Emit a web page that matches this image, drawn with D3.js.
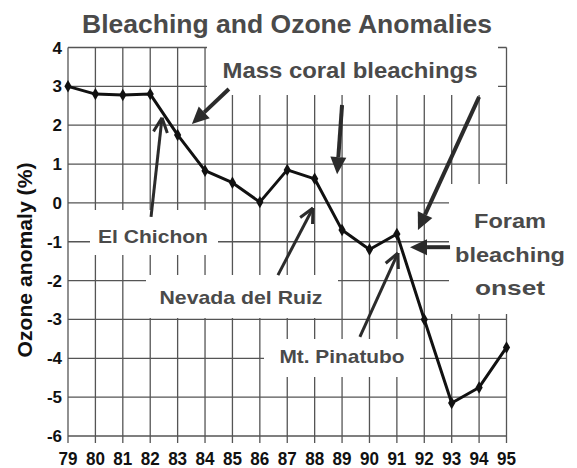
<!DOCTYPE html>
<html>
<head>
<meta charset="utf-8">
<script src="https://cdn.jsdelivr.net/npm/d3@7"></script>
<style>
  body { margin: 0; background: #fff; }
  svg text { font-family: "Liberation Sans", Arial, sans-serif; font-weight: bold; }
</style>
</head>
<body>
<svg id="chart"></svg>
<script>
// data
var years = [79, 80, 81, 82, 83, 84, 85, 86, 87, 88, 89, 90, 91, 92, 93, 94, 95];
var anomaly = [3.0, 2.8, 2.78, 2.8, 1.75, 0.83, 0.52, 0.02, 0.85, 0.62, -0.7, -1.2, -0.8, -3.0, -5.15, -4.75, -3.72];
var yTicks = [4, 3, 2, 1, 0, -1, -2, -3, -4, -5, -6];

// arrows in data units: [x0, y0, x1 (tip), y1 (tip), head type]
var arrows = [
    [84.87, 2.93, 83.52, 2.03, "fill"],
    [89.0, 2.52, 88.82, 0.74, "fill"],
    [94.0, 2.73, 91.77, -0.70, "fill"],
    [92.94, -1.14, 91.48, -1.14, "fill"],
    [82.03, -0.36, 82.43, 2.19, "open"],
    [86.66, -1.86, 87.94, -0.13, "open"],
    [89.65, -3.45, 91.04, -1.29, "open"]
];

// annotation labels: text lines, centre x, baselines, width, white box behind
var labels = [
    { lines: ["Mass coral bleachings"], cx: 350, base: [78], w: 255, size: 22, box: [207, 44, 291, 51] },
    { lines: ["El Chichon"], cx: 153, base: [243], w: 110, size: 19, box: [90, 210, 128, 45] },
    { lines: ["Nevada del Ruiz"], cx: 241, base: [304], w: 163, size: 19, box: [146, 275, 192, 43] },
    { lines: ["Mt. Pinatubo"], cx: 342, base: [363], w: 125, size: 19, box: [264, 339, 156, 38] },
    { lines: ["Foram", "bleaching", "onset"], cx: 510, base: [228, 262, 295], w: [72, 110, 70], size: 21, box: [449, 184, 128, 130] }
];

var width = 577, height = 468;
var svg = d3.select("#chart").attr("width", width).attr("height", height);

var x = d3.scaleLinear().domain([79, 95]).range([68, 506.5]);
var y = d3.scaleLinear().domain([-6, 4]).range([436, 47.5]);

// title
svg.append("text")
    .attr("x", 287).attr("y", 33)
    .attr("text-anchor", "middle")
    .attr("textLength", 410).attr("lengthAdjust", "spacingAndGlyphs")
    .style("font-size", "25px")
    .style("fill", "#4a4a4a")
    .text("Bleaching and Ozone Anomalies");

// grid
var grid = svg.append("g").attr("class", "grid")
    .style("stroke", "#555").style("stroke-width", 1.3);

grid.selectAll(".vline")
    .data(years).enter()
    .append("line")
    .attr("x1", d => x(d)).attr("x2", d => x(d))
    .attr("y1", y(4)).attr("y2", y(-6) + 7);

grid.selectAll(".hline")
    .data(yTicks).enter()
    .append("line")
    .attr("x1", x(79)).attr("x2", x(95))
    .attr("y1", d => y(d)).attr("y2", d => y(d));

// white boxes behind the labels cut the grid
svg.append("g").selectAll("rect")
    .data(labels).enter()
    .append("rect")
    .attr("x", d => d.box[0]).attr("y", d => d.box[1])
    .attr("width", d => d.box[2]).attr("height", d => d.box[3])
    .style("fill", "#fff");

// axes labels
svg.append("g").selectAll("text")
    .data(years).enter()
    .append("text")
    .attr("x", d => x(d)).attr("y", 465)
    .attr("text-anchor", "middle")
    .attr("textLength", 19).attr("lengthAdjust", "spacingAndGlyphs")
    .style("font-size", "18px")
    .style("fill", "#111")
    .text(d => d);

svg.append("g").selectAll("text")
    .data(yTicks).enter()
    .append("text")
    .attr("x", 62).attr("y", d => y(d) + 6)
    .attr("text-anchor", "end")
    .style("font-size", "17px")
    .style("fill", "#111")
    .text(d => d);

svg.append("text")
    .attr("transform", "translate(32,260) rotate(-90)")
    .attr("text-anchor", "middle")
    .attr("textLength", 195).attr("lengthAdjust", "spacingAndGlyphs")
    .style("font-size", "21px")
    .style("fill", "#111")
    .text("Ozone anomaly (%)");

// data line
var line = d3.line()
    .x((d, i) => x(years[i]))
    .y(d => y(d));

svg.append("path")
    .datum(anomaly)
    .attr("d", line)
    .style("fill", "none")
    .style("stroke", "#111")
    .style("stroke-width", 3)
    .style("stroke-linejoin", "round");

svg.append("g").selectAll("path")
    .data(anomaly).enter()
    .append("path")
    .attr("transform", (d, i) => "translate(" + x(years[i]) + "," + y(d) + ")")
    .attr("d", d3.symbol().type(d3.symbolDiamond).size(45))
    .style("fill", "#111");

// arrows
var ag = svg.append("g").attr("class", "arrows");
arrows.forEach(function(a) {
    var x0 = x(a[0]), y0 = y(a[1]), x1 = x(a[2]), y1 = y(a[3]);
    var ang = Math.atan2(y1 - y0, x1 - x0);
    if (a[4] == "fill") {
        var len = 17, hw = 8;
        var bx = x1 - len * Math.cos(ang), by = y1 - len * Math.sin(ang);
        ag.append("line")
            .attr("x1", x0).attr("y1", y0).attr("x2", bx).attr("y2", by)
            .style("stroke", "#2b2b2b").style("stroke-width", 4);
        var pts = [
            [x1, y1],
            [bx + hw * Math.sin(ang), by - hw * Math.cos(ang)],
            [bx - hw * Math.sin(ang), by + hw * Math.cos(ang)]
        ];
        ag.append("polygon")
            .attr("points", pts.map(p => p.join(",")).join(" "))
            .style("fill", "#2b2b2b");
    } else {
        var bl = 16, spread = 0.45;
        ag.append("line")
            .attr("x1", x0).attr("y1", y0).attr("x2", x1).attr("y2", y1)
            .style("stroke", "#2b2b2b").style("stroke-width", 3);
        [-spread, spread].forEach(function(s) {
            ag.append("line")
                .attr("x1", x1).attr("y1", y1)
                .attr("x2", x1 - bl * Math.cos(ang + s))
                .attr("y2", y1 - bl * Math.sin(ang + s))
                .style("stroke", "#2b2b2b").style("stroke-width", 3);
        });
    }
});

// annotation text
labels.forEach(function(l) {
    l.lines.forEach(function(t, i) {
        svg.append("text")
            .attr("x", l.cx).attr("y", l.base[i])
            .attr("text-anchor", "middle")
            .attr("textLength", Array.isArray(l.w) ? l.w[i] : l.w)
            .attr("lengthAdjust", "spacingAndGlyphs")
            .style("font-size", l.size + "px")
            .style("fill", "#4a4a4a")
            .text(t);
    });
});
</script>
</body>
</html>
